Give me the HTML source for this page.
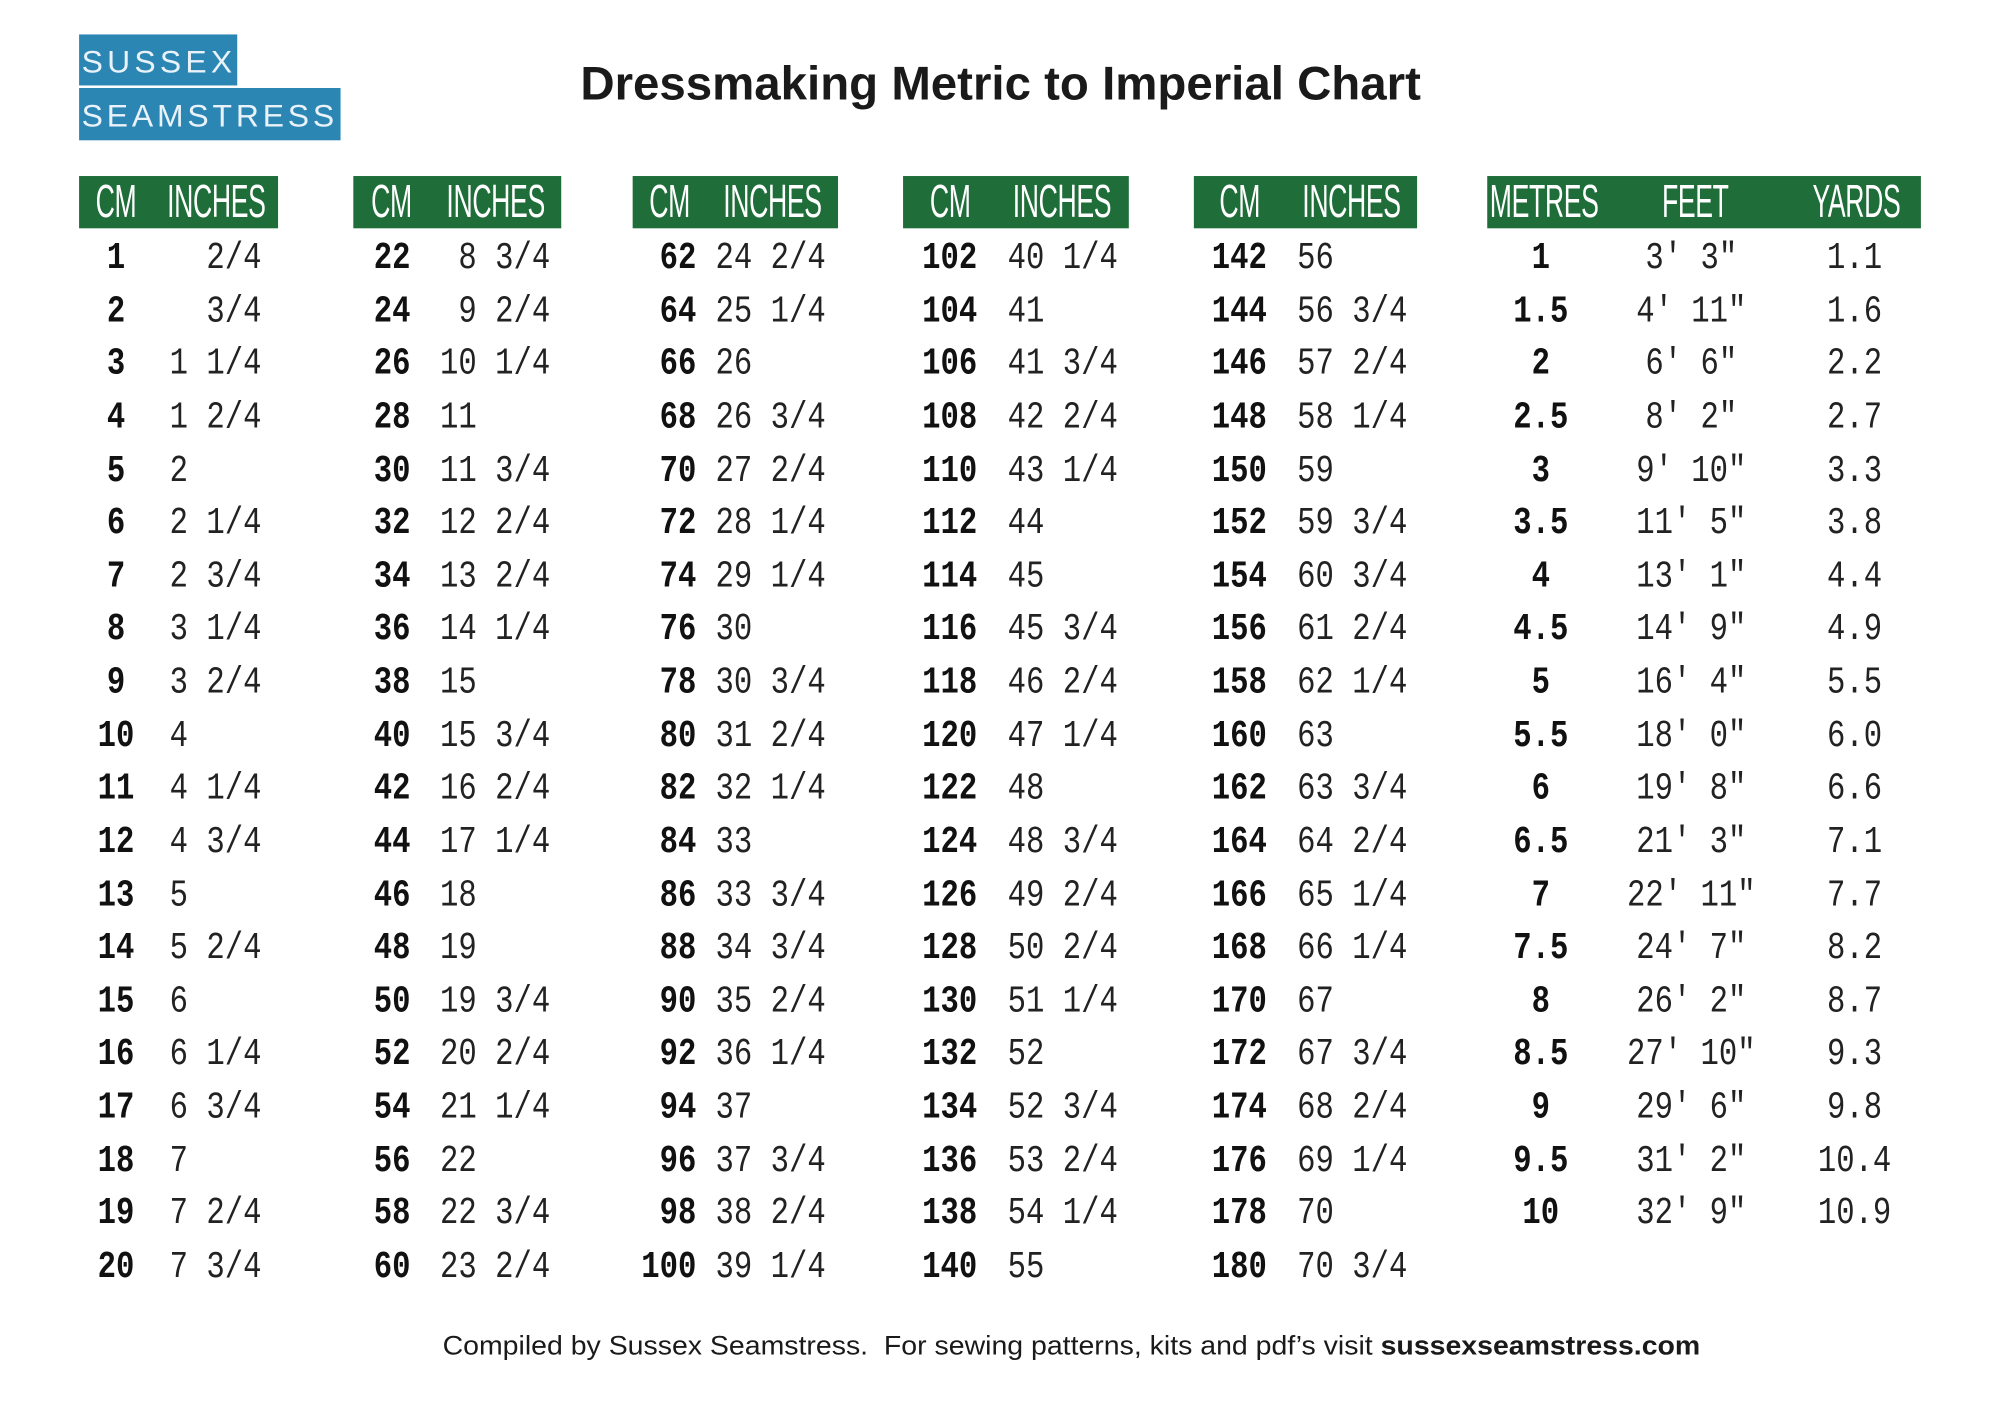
<!DOCTYPE html>
<html><head><meta charset="utf-8"><style>
html,body{margin:0;padding:0;background:#fff;width:2000px;height:1414px;overflow:hidden}
#w{position:absolute;left:0;top:0;width:1568px;height:1109px;transform:scale(1.2755,1.2755);transform-origin:0 0}
.hb{position:absolute;top:138px;height:41px;background:#1f6e3a}
.h{position:absolute;top:140px;font:36px/36px "Liberation Sans",sans-serif;color:#fff;transform:scaleX(0.58);transform-origin:0 0;white-space:pre;letter-spacing:-0.5px}
pre{position:absolute;margin:0;top:183px;font:30px/41.63px "Liberation Mono",monospace;color:#222;transform:scaleX(0.8);transform-origin:0 0;width:100px}
.b{font-weight:bold;color:#111}
.c{text-align:center}.r{text-align:right}
</style></head><body><div id="w">
<svg style="position:absolute;left:0;top:0" width="1568" height="1109">
<rect x="62" y="27" width="124" height="40" fill="#2c86b4"/>
<rect x="62" y="69" width="205" height="41" fill="#2c86b4"/>
<text x="64" y="57" font-family="Liberation Sans,sans-serif" font-size="25" fill="#e8f2f8" textLength="118" lengthAdjust="spacing">SUSSEX</text>
<text x="64" y="99" font-family="Liberation Sans,sans-serif" font-size="25" fill="#e8f2f8" textLength="198" lengthAdjust="spacing">SEAMSTRESS</text>
<text x="455" y="78" font-family="Liberation Sans,sans-serif" font-weight="bold" font-size="37" fill="#1a1a1a" textLength="659" lengthAdjust="spacingAndGlyphs">Dressmaking Metric to Imperial Chart</text>
<text x="347" y="1062" font-family="Liberation Sans,sans-serif" font-size="21" fill="#1a1a1a" textLength="986" lengthAdjust="spacingAndGlyphs" xml:space="preserve">Compiled by Sussex Seamstress.  For sewing patterns, kits and pdf’s visit <tspan font-weight="bold">sussexseamstress.com</tspan></text>
</svg>
<div class="hb" style="left:62px;width:156px"></div>
<div class="hb" style="left:277px;width:163px"></div>
<div class="hb" style="left:496px;width:161px"></div>
<div class="hb" style="left:708px;width:177px"></div>
<div class="hb" style="left:936px;width:175px"></div>
<div class="hb" style="left:1166px;width:340px"></div>
<div class="h" style="left:75px">CM</div><div class="h" style="left:131px">INCHES</div>
<div class="h" style="left:291px">CM</div><div class="h" style="left:350px">INCHES</div>
<div class="h" style="left:509px">CM</div><div class="h" style="left:567px">INCHES</div>
<div class="h" style="left:729px">CM</div><div class="h" style="left:794px">INCHES</div>
<div class="h" style="left:956px">CM</div><div class="h" style="left:1021px">INCHES</div>
<div class="h" style="left:1168px">METRES</div><div class="h" style="left:1303px">FEET</div><div class="h" style="left:1421px">YARDS</div>

<pre class="b c" style="left:51px">1
2
3
4
5
6
7
8
9
10
11
12
13
14
15
16
17
18
19
20</pre>
<pre style="left:133px;width:200px">  2/4
  3/4
1 1/4
1 2/4
2
2 1/4
2 3/4
3 1/4
3 2/4
4
4 1/4
4 3/4
5
5 2/4
6
6 1/4
6 3/4
7
7 2/4
7 3/4</pre>

<pre class="b" style="left:293px">22
24
26
28
30
32
34
36
38
40
42
44
46
48
50
52
54
56
58
60</pre>
<pre style="left:345px;width:200px"> 8 3/4
 9 2/4
10 1/4
11
11 3/4
12 2/4
13 2/4
14 1/4
15
15 3/4
16 2/4
17 1/4
18
19
19 3/4
20 2/4
21 1/4
22
22 3/4
23 2/4</pre>

<pre class="b r" style="left:466px">62
64
66
68
70
72
74
76
78
80
82
84
86
88
90
92
94
96
98
100</pre>
<pre style="left:561px;width:200px">24 2/4
25 1/4
26
26 3/4
27 2/4
28 1/4
29 1/4
30
30 3/4
31 2/4
32 1/4
33
33 3/4
34 3/4
35 2/4
36 1/4
37
37 3/4
38 2/4
39 1/4</pre>

<pre class="b" style="left:723px">102
104
106
108
110
112
114
116
118
120
122
124
126
128
130
132
134
136
138
140</pre>
<pre style="left:790px;width:200px">40 1/4
41
41 3/4
42 2/4
43 1/4
44
45
45 3/4
46 2/4
47 1/4
48
48 3/4
49 2/4
50 2/4
51 1/4
52
52 3/4
53 2/4
54 1/4
55</pre>

<pre class="b" style="left:950px">142
144
146
148
150
152
154
156
158
160
162
164
166
168
170
172
174
176
178
180</pre>
<pre style="left:1017px;width:200px">56
56 3/4
57 2/4
58 1/4
59
59 3/4
60 3/4
61 2/4
62 1/4
63
63 3/4
64 2/4
65 1/4
66 1/4
67
67 3/4
68 2/4
69 1/4
70
70 3/4</pre>

<pre class="b c" style="left:1168px">1
1.5
2
2.5
3
3.5
4
4.5
5
5.5
6
6.5
7
7.5
8
8.5
9
9.5
10</pre>
<pre class="c" style="left:1246px;width:200px">3' 3"
4' 11"
6' 6"
8' 2"
9' 10"
11' 5"
13' 1"
14' 9"
16' 4"
18' 0"
19' 8"
21' 3"
22' 11"
24' 7"
26' 2"
27' 10"
29' 6"
31' 2"
32' 9"</pre>
<pre class="c" style="left:1414px">1.1
1.6
2.2
2.7
3.3
3.8
4.4
4.9
5.5
6.0
6.6
7.1
7.7
8.2
8.7
9.3
9.8
10.4
10.9</pre>
</div></body></html>
